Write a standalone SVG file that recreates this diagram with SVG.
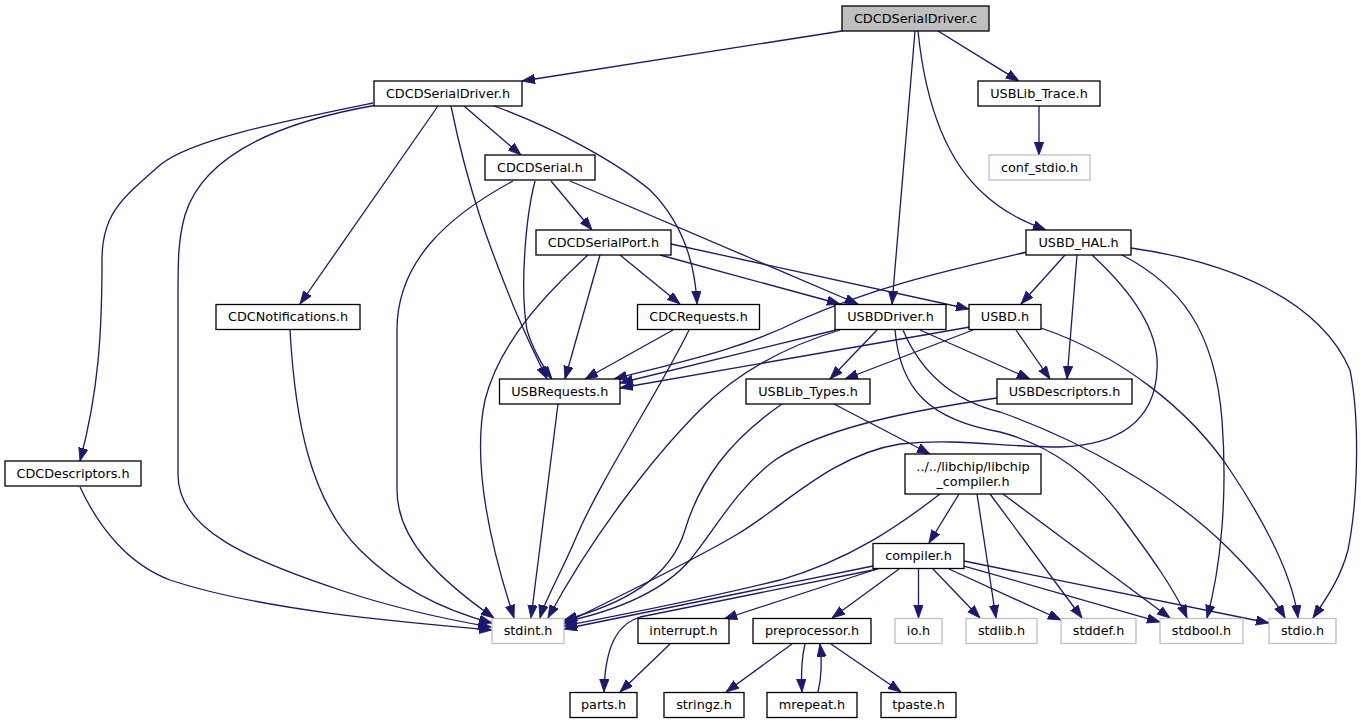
<svg xmlns="http://www.w3.org/2000/svg" width="1361" height="724" viewBox="0 0 1361 724">
<style>
.n rect{fill:#fff;stroke:#000;stroke-width:1.3}
.n.g rect{stroke:#bfbfbf}
.n.root rect{fill:#bfbfbf}
.n text{font-family:"DejaVu Sans","Liberation Sans",sans-serif;font-size:12.8px;text-anchor:middle;fill:#000}
#edges path{fill:none;stroke:#191970;stroke-width:1.3;marker-end:url(#ah)}
</style>
<defs>
<marker id="ah" markerUnits="userSpaceOnUse" markerWidth="13" markerHeight="10" refX="13" refY="4.7" orient="auto">
<path d="M0,0 L13,4.7 L0,9.4 Z" fill="#191970" stroke="#191970" stroke-width="0.8"/>
</marker>
</defs>
<rect width="1361" height="724" fill="#fff"/>
<g id="edges">
<path d="M842,31 L522,81"/>
<path d="M915,31 L892,304"/>
<path d="M938,31 L1019,81"/>
<path d="M918,31 C925,100 945,160 985,195 C1005,213 1025,222 1046,230"/>
<path d="M373,103 C280,122 190,140 160,165 C120,200 102,215 102,260 C102,330 99,390 80,461"/>
<path d="M377,105 C290,120 205,150 185,215 C178,240 178,260 178,300 L178,475 C178,530 250,560 340,590 C400,610 450,620 491,627"/>
<path d="M438,106 L300,304"/>
<path d="M451,106 C470,200 495,260 515,310 C530,345 540,365 547,379"/>
<path d="M464,106 L521,155"/>
<path d="M494,106 C560,130 620,165 650,190 C680,220 695,260 697,304"/>
<path d="M513,181 C450,215 397,260 397,330 L397,490 C397,540 440,580 494,618"/>
<path d="M588,255 C550,290 500,340 485,400 C470,470 495,560 514,618"/>
<path d="M600,255 L565,379"/>
<path d="M620,255 L680,304"/>
<path d="M660,255 L840,304"/>
<path d="M671,244 L969,309"/>
<path d="M535,181 C525,220 520,290 527,330 C533,350 545,370 552,379"/>
<path d="M551,181 L592,230"/>
<path d="M570,181 L858,304"/>
<path d="M1027,252 C950,270 880,285 800,320 C740,350 680,362 614,379"/>
<path d="M1065,255 L1021,304"/>
<path d="M1077,255 L1067,379"/>
<path d="M1092,255 C1130,290 1160,330 1157,370 C1155,420 1120,445 1060,447 C1000,447 960,438 900,444 C830,455 780,510 736,535 C680,568 600,605 564,624"/>
<path d="M1122,255 C1180,285 1215,330 1222,420 C1228,500 1220,570 1207,618"/>
<path d="M1131,248 C1230,262 1320,300 1350,370 C1360,420 1358,500 1348,550 C1340,580 1325,600 1313,618"/>
<path d="M836,330 L620,383"/>
<path d="M840,330 C790,345 740,370 700,410 C650,460 590,540 548,618"/>
<path d="M877,330 L830,379"/>
<path d="M920,330 L1030,379"/>
<path d="M895,330 C900,390 930,420 1000,432 C1050,445 1090,475 1120,515 C1150,555 1175,590 1187,618"/>
<path d="M903,330 C920,370 950,400 1000,412 C1080,440 1170,490 1230,550 C1260,580 1275,600 1285,618"/>
<path d="M970,327 L620,388"/>
<path d="M973,330 L845,379"/>
<path d="M1016,330 L1050,379"/>
<path d="M1041,328 C1120,355 1190,410 1230,470 C1270,530 1293,580 1298,618"/>
<path d="M290,330 C295,420 310,500 360,550 C400,590 450,612 492,623"/>
<path d="M673,330 L585,379"/>
<path d="M689,330 C660,390 600,480 575,540 C560,575 545,600 540,618"/>
<path d="M558,404 L531,618"/>
<path d="M782,404 C730,440 700,480 685,530 C670,580 620,605 564,620"/>
<path d="M834,404 L930,454"/>
<path d="M997,398 C900,412 820,430 775,460 C735,490 715,530 690,560 C660,595 610,612 564,622"/>
<path d="M940,494 C900,525 850,560 780,580 C700,600 620,615 564,626"/>
<path d="M959,494 L929,543"/>
<path d="M977,494 L996,618"/>
<path d="M990,494 L1082,618"/>
<path d="M1003,494 L1170,618"/>
<path d="M80,487 C100,530 130,565 170,580 C260,610 400,622 492,630"/>
<path d="M873,566 L564,629"/>
<path d="M878,569 L640,617 C615,625 605,650 604,692"/>
<path d="M877,569 L724,619"/>
<path d="M899,569 L832,618"/>
<path d="M918.5,569 L918.5,618"/>
<path d="M933,569 L980,618"/>
<path d="M949,569 L1061,620"/>
<path d="M964,566 L1160,622"/>
<path d="M964,561 L1269,623"/>
<path d="M670,644 L620,692"/>
<path d="M792,644 L726,692"/>
<path d="M805,644 C801,660 801,675 802,692"/>
<path d="M818,692 C822,675 822,660 820,644"/>
<path d="M831,644 L901,692"/>
<path d="M1039,106 L1039,155"/>
</g>
<g id="node-root" class="n root"><rect x="842" y="6" width="147" height="25"/><text x="915.5" y="22.5">CDCDSerialDriver.c</text></g>
<g id="node-CDCDSerialDriver_h" class="n"><rect x="374" y="81" width="148" height="25"/><text x="448" y="97.5">CDCDSerialDriver.h</text></g>
<g id="node-USBLib_Trace_h" class="n"><rect x="978" y="81" width="122" height="25"/><text x="1039" y="97.5">USBLib_Trace.h</text></g>
<g id="node-conf_stdio_h" class="n g"><rect x="989" y="155" width="101" height="25"/><text x="1039.5" y="171.5">conf_stdio.h</text></g>
<g id="node-CDCDSerial_h" class="n"><rect x="485" y="155" width="110" height="25"/><text x="540" y="171.5">CDCDSerial.h</text></g>
<g id="node-CDCDSerialPort_h" class="n"><rect x="536" y="230" width="135" height="25"/><text x="603.5" y="246.5">CDCDSerialPort.h</text></g>
<g id="node-USBD_HAL_h" class="n"><rect x="1026" y="230" width="105" height="25"/><text x="1078.5" y="246.5">USBD_HAL.h</text></g>
<g id="node-CDCNotifications_h" class="n"><rect x="216" y="304.5" width="144" height="25"/><text x="288" y="321">CDCNotifications.h</text></g>
<g id="node-CDCRequests_h" class="n"><rect x="637.5" y="304.5" width="122" height="25"/><text x="698.5" y="321">CDCRequests.h</text></g>
<g id="node-USBDDriver_h" class="n"><rect x="835" y="304.5" width="111" height="25"/><text x="890.5" y="321">USBDDriver.h</text></g>
<g id="node-USBD_h" class="n"><rect x="969" y="304.5" width="72" height="25"/><text x="1005" y="321">USBD.h</text></g>
<g id="node-USBRequests_h" class="n"><rect x="499.5" y="379" width="120.5" height="25"/><text x="559.75" y="395.5">USBRequests.h</text></g>
<g id="node-USBLib_Types_h" class="n"><rect x="746" y="379" width="124" height="25"/><text x="808" y="395.5">USBLib_Types.h</text></g>
<g id="node-USBDescriptors_h" class="n"><rect x="997" y="379" width="135" height="25"/><text x="1064.5" y="395.5">USBDescriptors.h</text></g>
<g id="node-CDCDescriptors_h" class="n"><rect x="5" y="461" width="136" height="25"/><text x="73" y="477.5">CDCDescriptors.h</text></g>
<g id="node-libchip_compiler_h" class="n"><rect x="905" y="454" width="136" height="40"/><text x="973" y="470.5">../../libchip/libchip</text><text x="973" y="485.5">_compiler.h</text></g>
<g id="node-compiler_h" class="n"><rect x="873" y="543.5" width="91" height="25"/><text x="918.5" y="560">compiler.h</text></g>
<g id="node-stdint_h" class="n g"><rect x="492" y="618.5" width="72" height="25"/><text x="528" y="635">stdint.h</text></g>
<g id="node-interrupt_h" class="n"><rect x="638" y="618.5" width="91" height="25"/><text x="683.5" y="635">interrupt.h</text></g>
<g id="node-preprocessor_h" class="n"><rect x="753" y="618.5" width="118" height="25"/><text x="812" y="635">preprocessor.h</text></g>
<g id="node-io_h" class="n g"><rect x="895" y="618.5" width="47" height="25"/><text x="918.5" y="635">io.h</text></g>
<g id="node-stdlib_h" class="n g"><rect x="966" y="618.5" width="71" height="25"/><text x="1001.5" y="635">stdlib.h</text></g>
<g id="node-stddef_h" class="n g"><rect x="1061" y="618.5" width="75" height="25"/><text x="1098.5" y="635">stddef.h</text></g>
<g id="node-stdbool_h" class="n g"><rect x="1160" y="618.5" width="83" height="25"/><text x="1201.5" y="635">stdbool.h</text></g>
<g id="node-stdio_h" class="n g"><rect x="1269" y="618.5" width="67" height="25"/><text x="1302.5" y="635">stdio.h</text></g>
<g id="node-parts_h" class="n"><rect x="570" y="692.5" width="67" height="25"/><text x="603.5" y="709">parts.h</text></g>
<g id="node-stringz_h" class="n"><rect x="664" y="692.5" width="80" height="25"/><text x="704" y="709">stringz.h</text></g>
<g id="node-mrepeat_h" class="n"><rect x="767" y="692.5" width="90" height="25"/><text x="812" y="709">mrepeat.h</text></g>
<g id="node-tpaste_h" class="n"><rect x="881" y="692.5" width="75" height="25"/><text x="918.5" y="709">tpaste.h</text></g>
</svg>
